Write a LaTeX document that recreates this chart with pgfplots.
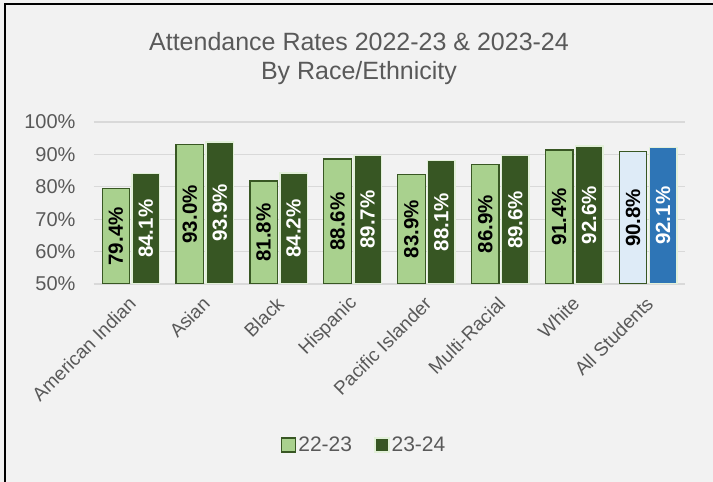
\documentclass[border=0pt]{standalone}
\usepackage{fontspec}
\setmainfont{Liberation Sans}
\usepackage{pgfplots}
\pgfplotsset{compat=1.18}
\definecolor{bg}{HTML}{F2F2F2}
\definecolor{txt}{HTML}{595959}
\definecolor{gridc}{HTML}{D9D9D9}
\definecolor{lgfill}{HTML}{A9D18E}
\definecolor{dgedge}{HTML}{385723}
\definecolor{dgfill}{HTML}{375623}
\definecolor{lgedge}{HTML}{E2F0D9}
\definecolor{lbfill}{HTML}{DEEBF7}
\definecolor{bfill}{HTML}{2E75B6}
\begin{document}
\begin{tikzpicture}
\useasboundingbox (0,0) rectangle (713pt,482pt);
\fill[bg] (0,0) rectangle (713pt,482pt);
\draw[black, line width=2.5pt] (5pt,0) -- (5pt,478pt) -- (713pt,478pt);
\node[text=txt, font=\fontsize{25}{29}\selectfont] at (359pt,440pt) {Attendance Rates 2022-23 \& 2023-24};
\node[text=txt, font=\fontsize{25}{29}\selectfont] at (359pt,409pt) {By Race/Ethnicity};
\begin{axis}[
  at={(94pt,198pt)}, anchor=south west,
  scale only axis, width=591pt, height=162pt,
  ymin=50, ymax=100,
  xmin=-0.5, xmax=7.5,
  xtick={0,...,7},
  xticklabels={American Indian,Asian,Black,Hispanic,Pacific Islander,Multi-Racial,White,All Students},
  xticklabel style={yshift=-14pt, xshift=4pt, rotate=45, anchor=east, text=txt, font=\fontsize{19}{22}\selectfont},
  ytick={50,60,...,100},
  yticklabels={50\%,60\%,70\%,80\%,90\%,100\%},
  yticklabel style={text=txt, font=\fontsize{20}{24}\selectfont, xshift=-15pt},
  ymajorgrids, xmajorgrids=false, grid style={gridc, line width=1.2pt},
  major tick length=0pt,
  axis x line*=bottom, axis y line*=left,
  x axis line style={gridc, line width=1.2pt, -},
  y axis line style={draw=none},
  ybar, bar width=27.5pt,
  nodes near coords={\pgfmathprintnumber[fixed,fixed zerofill,precision=1,assume math mode=true]{\pgfplotspointmeta}\%},
  visualization depends on={rawy \as \rawy},
  nodes near coords style={anchor=center, yshift={(50-\rawy)*1.62}, rotate=90, font=\fontsize{20.5}{24}\selectfont\bfseries},
  legend style={at={(0.457,-0.994)}, anchor=center, legend columns=2, draw=none, fill=none,
    font=\fontsize{21}{25}\selectfont, text=txt, /tikz/every even column/.append style={column sep=20pt}},
  legend image code/.code={\draw[#1, line width=1.5pt] (0pt,-7pt) rectangle (14pt,7pt);},
]
\addplot[fill=lgfill, draw=dgedge, line width=1.3pt, bar shift=-15pt, nodes near coords style={text=black}]
  coordinates {(0,79.4) (1,93.0) (2,81.8) (3,88.6) (4,83.9) (5,86.9) (6,91.4)};
\addlegendentry{22-23}
\addplot[fill=dgfill, draw=lgedge, line width=1.5pt, bar shift=15pt, nodes near coords style={text=white}]
  coordinates {(0,84.1) (1,93.9) (2,84.2) (3,89.7) (4,88.1) (5,89.6) (6,92.6)};
\addlegendentry{23-24}
\addplot[fill=lbfill, draw=dgedge, line width=1.3pt, bar shift=-15pt, nodes near coords style={text=black}, forget plot]
  coordinates {(7,90.8)};
\addplot[fill=bfill, draw=lgedge, line width=1.5pt, bar shift=15pt, nodes near coords style={text=white}, forget plot]
  coordinates {(7,92.1)};
\end{axis}
\end{tikzpicture}
\end{document}
